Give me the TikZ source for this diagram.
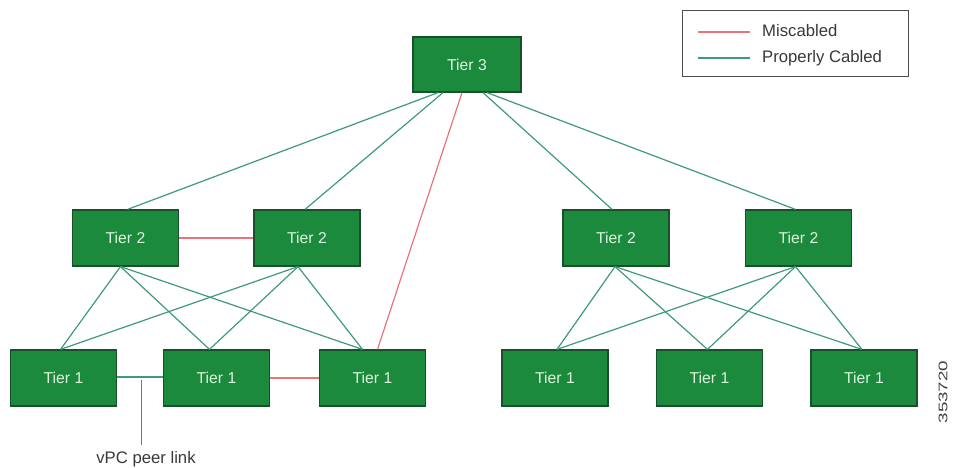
\documentclass[tikz,border=0pt]{standalone}
\usepackage{fontspec}
\setmainfont{Liberation Sans}
\definecolor{boxfill}{HTML}{1C8A3C}
\definecolor{boxline}{HTML}{17502A}
\definecolor{boxtext}{HTML}{DDF5DF}
\definecolor{goodlink}{HTML}{3E9A78}
\definecolor{badlink}{HTML}{E8737C}
\definecolor{peerline}{HTML}{777777}
\begin{document}
\begin{tikzpicture}[x=1pt,y=-1pt,
  switchbox/.style={draw=boxline,line width=1.2pt,fill=boxfill,text=boxtext,
    minimum width=106pt,minimum height=56pt,inner sep=0pt,
    font=\fontsize{15.7}{17}\selectfont},
  good/.style={draw=goodlink,line width=1.2pt},
  bad/.style={draw=badlink,line width=1.2pt},
  lbl/.style={font=\fontsize{16.7}{18}\selectfont,text=black!78,inner sep=0pt}]
\useasboundingbox (0,0) rectangle (953,467);

% switches
\node[switchbox,minimum width=108pt,minimum height=55pt] (t3) at (467,64.5) {Tier 3};
\node[switchbox] (t2a) at (125.5,238) {Tier 2};
\node[switchbox] (t2b) at (307,238) {Tier 2};
\node[switchbox] (t2c) at (616,238) {Tier 2};
\node[switchbox] (t2d) at (798.5,238) {Tier 2};
\node[switchbox] (t1a) at (63.5,378) {Tier 1};
\node[switchbox] (t1b) at (216.5,378) {Tier 1};
\node[switchbox] (t1c) at (372.5,378) {Tier 1};
\node[switchbox] (t1d) at (555,378) {Tier 1};
\node[switchbox] (t1e) at (709.5,378) {Tier 1};
\node[switchbox] (t1f) at (864,378) {Tier 1};

% attachment points on the switch edges
\coordinate (t3l1) at ([xshift=-29pt]t3.south);
\coordinate (t3l2) at ([xshift=-24pt]t3.south);
\coordinate (t3m)  at ([xshift=-5pt]t3.south);
\coordinate (t3r1) at ([xshift=16pt]t3.south);
\coordinate (t3r2) at ([xshift=20pt]t3.south);
\coordinate (t2at) at ([xshift=2pt]t2a.north);
\coordinate (t2bt) at ([xshift=-2pt]t2b.north);
\coordinate (t2ct) at ([xshift=-4pt]t2c.north);
\coordinate (t2dt) at ([xshift=-3pt]t2d.north);
\coordinate (t2ab) at ([xshift=-5pt]t2a.south);
\coordinate (t2bb) at ([xshift=-9pt]t2b.south);
\coordinate (t2cb) at ([xshift=-1pt]t2c.south);
\coordinate (t2db) at ([xshift=-3pt]t2d.south);
\coordinate (t1at) at ([xshift=-3pt]t1a.north);
\coordinate (t1bt) at ([xshift=-7pt]t1b.north);
\coordinate (t1ct) at ([xshift=-10pt]t1c.north);
\coordinate (t1cr) at ([xshift=5pt]t1c.north);
\coordinate (t1dt) at ([xshift=2pt]t1d.north);
\coordinate (t1et) at ([xshift=-2pt]t1e.north);
\coordinate (t1ft) at ([xshift=-2pt]t1f.north);

% uplinks to tier 3
\draw[good] (t3l1) -- (t2at);
\draw[good] (t3l2) -- (t2bt);
\draw[good] (t3r1) -- (t2ct);
\draw[good] (t3r2) -- (t2dt);
\draw[bad] (t3m) -- (t1cr);

% tier 2 to tier 1, left pod
\foreach \u in {t2ab,t2bb}
  \foreach \d in {t1at,t1bt,t1ct}
    \draw[good] (\u) -- (\d);
% tier 2 to tier 1, right pod
\foreach \u in {t2cb,t2db}
  \foreach \d in {t1dt,t1et,t1ft}
    \draw[good] (\u) -- (\d);

% side links
\draw[bad] (t2a.east) -- (t2b.west);
\draw[bad] (t1b.east) -- (t1c.west);
\draw[good] ([yshift=1pt]t1a.east) -- ([yshift=1pt]t1b.west);

% vPC peer link callout
\coordinate (peer) at (141.5,380);
\node[lbl,anchor=base] (peerlbl) at (146,463) {vPC peer link};
\draw[peerline,line width=1.1pt] (peer) -- (141.5,445);

% legend
\node[draw=black!70,line width=1pt,minimum width=226pt,minimum height=66pt,inner sep=0pt] (legend) at (795,43) {};
\coordinate (lgA1) at (698,32);
\coordinate (lgA2) at (750,32);
\coordinate (lgB1) at (698,58);
\coordinate (lgB2) at (750,58);
\draw[bad] (lgA1) -- (lgA2);
\draw[good] (lgB1) -- (lgB2);
\node[lbl,anchor=west] (lgAtext) at (762,31) {Miscabled};
\node[lbl,anchor=west] (lgBtext) at (762,58) {Properly Cabled};

% figure number
\node[font=\fontsize{12.5}{13}\selectfont,text=black!75,rotate=90,xscale=1.5,inner sep=0pt] (fignum) at (943,392) {353720};
\end{tikzpicture}
\end{document}
